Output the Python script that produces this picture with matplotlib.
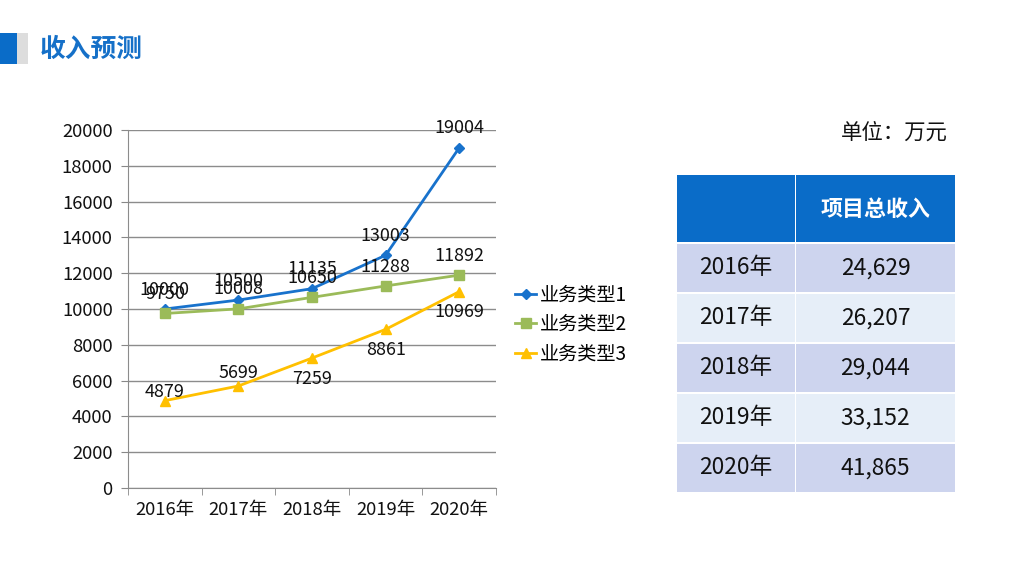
"""收入预测: three business lines 2016-2020 plus a yearly total table."""

import matplotlib
matplotlib.use("Agg")
import matplotlib.pyplot as plt
from matplotlib.patches import Rectangle

plt.rcParams["font.family"] = ["Noto Sans CJK SC", "DejaVu Sans"]

YEARS = ["2016年", "2017年", "2018年", "2019年", "2020年"]
SERIES_NAMES = ["业务类型1", "业务类型2", "业务类型3"]
TYPE1 = [10000, 10500, 11135, 13003, 19004]
TYPE2 = [9750, 10008, 10650, 11288, 11892]
TYPE3 = [4879, 5699, 7259, 8861, 10969]
TOTALS = ["24,629", "26,207", "29,044", "33,152", "41,865"]

BLUE, GREEN, GOLD = "#1872CC", "#9BBB59", "#FFC000"
# vertical offset of each label centre from its point, in points
TYPE1_OFFSETS = [14, 14, 14, 14, 14]
TYPE2_OFFSETS = [14, 14, 14, 14, 14]
TYPE3_OFFSETS = [6, 9.5, -15, -15, -14.5]

fig = plt.figure(figsize=(10.24, 5.76), dpi=100)

# ── overlay for header, table and notes (pixel coordinates) ─────────────────
bg = fig.add_axes([0, 0, 1, 1])
bg.set_xlim(0, 1024)
bg.set_ylim(576, 0)
bg.set_axis_off()
bg.add_patch(Rectangle((0, 33), 17, 31, fc="#0A6CC8", ec="none"))
bg.add_patch(Rectangle((17, 33), 11, 31, fc="#DDDDDD", ec="none"))
bg.text(40, 49, "收入预测", fontsize=18.5, fontweight="bold", color="#1570C8",
        ha="left", va="center")
bg.text(948, 133, "单位：万元", fontsize=15.4, color="#111111", ha="right", va="center")

col_x = [677, 796]
col_w = [118, 159]
bg.add_patch(Rectangle((col_x[0], 175), col_w[0], 67, fc="#0A6CC8", ec="none"))
bg.add_patch(Rectangle((col_x[1], 175), col_w[1], 67, fc="#0A6CC8", ec="none"))
bg.text(col_x[1] + col_w[1] / 2, 209, "项目总收入", fontsize=15.8, fontweight="bold",
        color="white", ha="center", va="center")
for i, (year, total) in enumerate(zip(YEARS, TOTALS)):
    y0 = 244 + i * 50
    fc = "#CDD4EE" if i % 2 == 0 else "#E6EEF8"
    for x0, w in zip(col_x, col_w):
        bg.add_patch(Rectangle((x0, y0), w, 48, fc=fc, ec="none"))
    bg.text(col_x[0] + col_w[0] / 2, y0 + 24, year, fontsize=16.4, ha="center",
            va="center", color="#111111")
    bg.text(col_x[1] + col_w[1] / 2, y0 + 24, total, fontsize=16.4, ha="center",
            va="center", color="#111111")

# ── line chart ──────────────────────────────────────────────────────────────
ax = fig.add_axes([128 / 1024, 1 - 488 / 576, 368 / 1024, 358 / 576])
ax.set_facecolor("none")
x = range(len(YEARS))
ax.plot(x, TYPE1, "-D", color=BLUE, lw=2, ms=5, label=SERIES_NAMES[0])
ax.plot(x, TYPE2, "-s", color=GREEN, lw=2, ms=7, label=SERIES_NAMES[1])
ax.plot(x, TYPE3, "-^", color=GOLD, lw=2, ms=7, label=SERIES_NAMES[2])

for values, offsets in ((TYPE1, TYPE1_OFFSETS), (TYPE2, TYPE2_OFFSETS),
                        (TYPE3, TYPE3_OFFSETS)):
    for xi, v, off in zip(x, values, offsets):
        ax.annotate(str(v), (xi, v), xytext=(0, off), textcoords="offset points",
                    ha="center", va="center", fontsize=12.9, color="#111111")

ax.set_xlim(-0.5, len(YEARS) - 0.5)
ax.set_ylim(0, 20000)
ax.set_yticks(range(0, 20001, 2000))
ax.set_xticks(list(x))
ax.set_xticklabels(YEARS)
ax.set_xticks([i - 0.5 for i in range(len(YEARS) + 1)], minor=True)
ax.tick_params(axis="x", which="major", length=0, pad=9, labelsize=13.3,
               labelcolor="#111111")
ax.tick_params(axis="x", which="minor", length=5, color="#888888")
ax.tick_params(axis="y", length=5, pad=6, color="#888888", labelsize=13.3,
               labelcolor="#111111")
ax.grid(axis="y", color="#8C8C8C", lw=1)
ax.set_axisbelow(True)
for side in ("top", "right"):
    ax.spines[side].set_visible(False)
for side in ("left", "bottom"):
    ax.spines[side].set_color("#8C8C8C")

ax.legend(loc="upper left", bbox_to_anchor=(498 / 1024, 1 - 267 / 576),
          bbox_transform=fig.transFigure, frameon=False, fontsize=13.8,
          handlelength=1.1, handletextpad=0.2, labelspacing=0.45)

fig.savefig("out.png", dpi=100)
